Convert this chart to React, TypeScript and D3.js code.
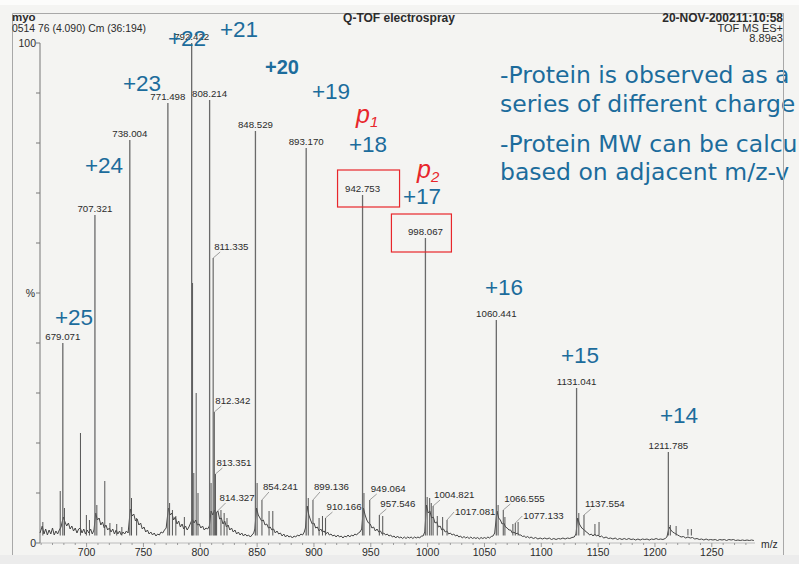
import { useEffect } from 'react';
import * as d3 from 'd3';

const W = 799;
const H = 564;

// labelled main peaks: m/z and relative intensity (%)
const mainMz = [679.071, 707.321, 738.004, 771.498, 792.422, 808.214, 848.529, 893.17, 942.753, 998.067, 1060.441, 1131.041, 1211.785];
const mainPct = [40.0, 65.6, 80.6, 88.0, 100, 88.6, 82.4, 79.0, 69.6, 61.0, 44.6, 31.0, 18.2];

// smaller labelled peaks (label sits beside, with a leader)
const sideMz = [811.335, 812.342, 813.351, 814.327, 854.241, 899.136, 910.166, 949.064, 957.546, 1004.821, 1017.081, 1066.555, 1077.133, 1137.554];
const sidePct = [57.0, 26.2, 13.8, 6.2, 8.6, 8.6, 5.0, 8.6, 5.6, 7.4, 4.6, 6.6, 4.0, 5.6];

// unlabelled spikes [m/z, %]
const spikes: [number, number][] = [
  [661.5, 4.2], [676.8, 10.4], [680.5, 7.0], [694.6, 22.0], [699.8, 5.6], [702.5, 4.6], [709.0, 7.6],
  [716.0, 12.4], [720.5, 4.0], [726.5, 3.8], [731, 3.2], [739.5, 9.0], [744, 5.0], [773.0, 8.0],
  [775.5, 6.6], [778.5, 5.4], [786.0, 5.2], [793.2, 52.0], [794.3, 14.0], [796.4, 30.0], [798.0, 10.0],
  [809.5, 12.0], [818.2, 6.6], [821.0, 6.0], [823.5, 5.0], [850.0, 12.0], [860.5, 6.4], [863.8, 6.4],
  [895.0, 9.0], [904.5, 5.0], [907.5, 5.4], [944.0, 10.0], [960.5, 5.4], [999.6, 9.2], [1001.8, 9.0],
  [1003.2, 8.0], [1008.5, 5.4], [1013.2, 5.2], [1062.0, 7.6], [1068.0, 5.2], [1075.0, 3.8], [1079.6, 4.2],
  [1133, 6.0], [1147.2, 3.8], [1150.8, 4.2], [1213.5, 3.6], [1218.6, 3.4], [1229.0, 2.8], [1232.0, 2.8],
];

// baseline trace [m/z, %]
const baseline: [number, number][] = [
  [659, 2.0], [661, 3.4], [662.5, 1.8], [664, 2.8], [665.5, 1.6], [667, 2.6], [668.5, 1.8], [670, 3.0], [671.5, 1.6],
  [673, 2.4], [674.5, 1.8], [676, 2.6], [677.5, 3.2], [679.5, 5.2], [681, 4.2], [682.5, 3.4], [684, 4.0], [685.5, 2.8],
  [687, 3.4], [688.5, 2.4], [690, 3.0], [691.5, 2.0], [693, 2.8], [694.5, 3.0], [696, 2.0], [697.5, 2.8], [699, 1.8],
  [700.5, 2.6], [702, 2.0], [703.5, 2.8], [705, 1.8], [706.5, 2.6], [708, 6.0], [709.5, 4.6], [711, 5.0], [712.5, 3.6],
  [714, 4.2], [715.5, 3.0], [717, 3.6], [718.5, 2.6], [720, 3.0], [721.5, 2.2], [723, 2.8], [724.5, 1.8], [726, 2.6],
  [727.5, 1.8], [729, 2.4], [730.5, 1.6], [732, 2.2], [733.5, 1.8], [735, 2.4], [736.5, 2.0], [738.5, 6.8], [740, 5.4],
  [741.5, 5.8], [743, 4.4], [744.5, 4.8], [746, 3.6], [747.5, 4.0], [749, 2.8], [750.5, 3.2], [752, 2.2], [753.5, 2.6],
  [755, 1.8], [756.5, 2.2], [758, 1.6], [759.5, 2.0], [761, 1.4], [762.5, 1.8], [764, 1.6], [765.5, 2.2], [767, 2.0],
  [768.5, 2.6], [770, 3.0], [772, 7.0], [773.5, 5.6], [775, 6.0], [776.5, 4.6], [778, 5.2], [779.5, 3.8], [781, 4.4],
  [782.5, 3.2], [784, 3.8], [785.5, 2.8], [787, 3.4], [788.5, 2.6], [790, 3.2], [791.5, 4.0], [793, 4.8], [794.5, 4.0],
  [796, 4.6], [797.5, 3.6], [799, 3.8], [800.5, 3.0], [802, 3.4], [803.5, 2.6], [805, 3.0], [806.5, 2.8], [808, 3.4],
  [809.5, 6.4], [811, 5.6], [812.5, 6.6], [814, 6.0], [815.5, 6.4], [817, 4.8], [818.5, 5.0], [820, 3.8], [821.5, 4.4],
  [823, 3.2], [824.5, 3.6], [826, 2.6], [827.5, 3.0], [829, 2.2], [830.5, 2.6], [832, 1.8], [833.5, 2.2], [835, 1.6],
  [836.5, 2.0], [838, 1.4], [839.5, 1.8], [841, 1.4], [842.5, 1.6], [844, 1.2], [845.5, 1.6], [847, 2.0], [848, 2.8],
  [849.5, 7.0], [851, 5.6], [852.5, 5.0], [854, 4.4], [855.5, 4.6], [857, 3.6], [858.5, 3.8], [860, 3.0], [861.5, 3.2],
  [863, 2.6], [864.5, 2.8], [866, 2.0], [867.5, 2.4], [869, 1.8], [870.5, 2.0], [872, 1.4], [873.5, 1.8], [875, 1.2],
  [876.5, 1.6], [878, 1.2], [879.5, 1.4], [881, 1.0], [882.5, 1.4], [884, 1.2], [885.5, 1.6], [887, 1.4], [888.5, 1.8],
  [890, 1.6], [891.5, 2.2], [892.5, 3.0], [894, 7.4], [895.5, 5.6], [897, 4.6], [898.5, 3.8], [900, 4.0], [901.5, 3.0],
  [903, 3.2], [904.5, 2.4], [906, 2.8], [907.5, 2.2], [909, 2.4], [910.5, 1.8], [912, 2.2], [913.5, 1.6], [915, 1.8],
  [916.5, 1.4], [918, 1.6], [919.5, 1.2], [921, 1.6], [922.5, 1.2], [924, 1.4], [925.5, 1.0], [927, 1.4], [928.5, 1.2],
  [930, 1.6], [931.5, 1.2], [933, 1.6], [934.5, 1.4], [936, 1.8], [937.5, 1.6], [939, 2.0], [940.5, 2.2], [942, 2.8],
  [943.5, 7.0], [945, 5.6], [946.5, 4.6], [948, 4.0], [949.5, 3.8], [951, 3.0], [952.5, 3.2], [954, 2.4], [955.5, 2.8],
  [957, 2.2], [958.5, 2.4], [960, 1.8], [961.5, 2.0], [963, 1.6], [964.5, 1.8], [966, 1.4], [967.5, 1.6], [969, 1.2],
  [970.5, 1.4], [972, 1.0], [973.5, 1.4], [975, 1.0], [976.5, 1.2], [978, 0.9], [979.5, 1.2], [981, 0.9], [982.5, 1.2],
  [984, 1.0], [985.5, 1.2], [987, 0.9], [988.5, 1.2], [990, 1.0], [991.5, 1.2], [993, 1.0], [994.5, 1.4], [996, 1.4],
  [997.5, 2.2], [999, 7.6], [1000.5, 6.0], [1002, 6.4], [1003.5, 5.0], [1005, 5.2], [1006.5, 4.0], [1008, 4.2],
  [1009.5, 3.2], [1011, 3.4], [1012.5, 2.6], [1014, 2.8], [1015.5, 2.2], [1017, 2.4], [1018.5, 1.8], [1020, 2.0],
  [1021.5, 1.6], [1023, 1.8], [1024.5, 1.4], [1026, 1.6], [1027.5, 1.2], [1029, 1.4], [1030.5, 1.0], [1032, 1.3],
  [1033.5, 1.0], [1035, 1.2], [1036.5, 0.9], [1038, 1.2], [1039.5, 0.9], [1041, 1.1], [1042.5, 0.9], [1044, 1.1],
  [1045.5, 0.8], [1047, 1.1], [1048.5, 0.9], [1050, 1.1], [1051.5, 0.9], [1053, 1.2], [1054.5, 1.0], [1056, 1.3],
  [1057.5, 1.4], [1059, 2.0], [1061, 6.4], [1062.5, 5.0], [1064, 4.6], [1065.5, 3.8], [1067, 4.0], [1068.5, 3.2],
  [1070, 3.0], [1071.5, 2.6], [1073, 2.6], [1074.5, 2.0], [1076, 2.2], [1077.5, 1.8], [1079, 2.0], [1080.5, 1.6],
  [1082, 1.6], [1083.5, 1.3], [1085, 1.4], [1086.5, 1.1], [1088, 1.3], [1089.5, 1.0], [1091, 1.2], [1093, 0.9],
  [1095, 1.1], [1097, 0.8], [1099, 1.0], [1101, 0.8], [1103, 1.0], [1105, 0.8], [1107, 1.0], [1109, 0.7], [1111, 0.9],
  [1113, 0.7], [1115, 0.9], [1117, 0.8], [1119, 1.0], [1121, 0.8], [1123, 1.0], [1125, 0.9], [1127, 1.1], [1129, 1.2],
  [1130.5, 1.8], [1132, 5.0], [1133.5, 3.8], [1135, 3.2], [1136.5, 2.8], [1138, 2.6], [1139.5, 2.2], [1141, 2.0],
  [1142.5, 1.6], [1144, 1.8], [1145.5, 1.4], [1147, 1.8], [1148.5, 1.4], [1150, 1.6], [1151.5, 1.2], [1153, 1.4],
  [1155, 1.0], [1157, 1.2], [1159, 0.9], [1161, 1.0], [1163, 0.8], [1165, 1.0], [1167, 0.7], [1169, 0.9], [1171, 0.7],
  [1173, 0.9], [1175, 0.7], [1177, 0.9], [1179, 0.7], [1181, 0.8], [1183, 0.6], [1185, 0.8], [1187, 0.6], [1189, 0.8],
  [1191, 0.7], [1193, 0.8], [1195, 0.6], [1197, 0.8], [1199, 0.7], [1201, 0.9], [1203, 0.7], [1205, 0.8], [1207, 0.7],
  [1209, 0.9], [1210.5, 1.2], [1212.5, 3.2], [1214, 2.6], [1215.5, 2.2], [1217, 2.0], [1218.5, 1.8], [1220, 1.6],
  [1221.5, 1.4], [1223, 1.2], [1225, 1.3], [1227, 1.0], [1229, 1.2], [1231, 1.0], [1233, 1.1], [1235, 0.8], [1237, 0.9],
  [1239, 0.7], [1241, 0.8], [1243, 0.6], [1245, 0.8], [1247, 0.6], [1249, 0.7], [1251, 0.6], [1253, 0.7], [1255, 0.5],
  [1257, 0.7], [1259, 0.6], [1261, 0.7], [1263, 0.5], [1265, 0.7], [1267, 0.6], [1269, 0.7], [1271, 0.5], [1273, 0.6],
  [1275, 0.5], [1277, 0.6], [1279, 0.5], [1281, 0.6], [1283, 0.5], [1285, 0.6], [1287, 0.5],
];

const xTickValues = [700, 750, 800, 850, 900, 950, 1000, 1050, 1100, 1150, 1200, 1250];

const chargeLabels = ['+25', '+24', '+23', '+22', '+21', '+20', '+19', '+18', '+17', '+16', '+15', '+14'];

const notes = [
  '-Protein is observed as a',
  'series of different charge',
  '-Protein MW can be calcu',
  'based on adjacent m/z-v',
];

// ---- layout (pixels) ----
const chargePos: Record<string, [number, number]> = {
  '+25': [74, 325], '+24': [104, 173], '+23': [142, 91], '+22': [187, 46], '+21': [239, 37],
  '+20': [282, 74], '+19': [331, 99], '+18': [368, 152], '+17': [422, 204], '+16': [504, 295],
  '+15': [580, 363], '+14': [679, 423],
};
// label offset from peak top: [dx, dy of text centre]
const sideOffset: Record<string, [number, number]> = {
  '814.327': [3, -15], '854.241': [1, -14], '899.136': [1, -14],
  '1017.081': [8, -9], '1077.133': [8, -8],
};
const notePos = [83, 112, 152, 180];

const BLUE = '#1c6c9c';
const RED = '#e8262b';
const INK = '#2b2b2b';
const SANS = "'Liberation Sans', Arial, sans-serif";

export default function App() {
  useEffect(() => {
    document.body.style.margin = '0';
  }, []);

  const x = d3.scaleLinear().domain([659, 1288]).range([40, 755]);
  const y = d3.scaleLinear().domain([0, 100]).range([543, 43]);

  const trace = d3
    .line<[number, number]>()
    .x((d) => x(d[0]))
    .y((d) => y(d[1]))(baseline);

  const minorTicks = d3.range(660, 1290, 10);
  const yTicks = d3.range(0, 101, 10);

  const p1x = x(mainMz[8]);
  const p1y = y(mainPct[8]);
  const p2x = x(mainMz[9]);
  const p2y = y(mainPct[9]);

  return (
    <svg width={W} height={H} style={{ position: 'absolute', left: 0, top: 0, display: 'block' }} fontFamily={SANS}>
      <rect width={W} height={H} fill="#f4f4f2" />
      <rect width={W} height={5} fill="#fcfcfb" />
      <rect y={555} width={W} height={9} fill="#ececec" />
      <path d="M12.5,555 V13.5 H783.5 V555" fill="none" stroke="#a8a8a8" />

      {/* header */}
      <text x={12} y={21} fontSize={11.5} fontWeight="bold" fill={INK}>myo</text>
      <text x={12} y={31.5} fontSize={10.4} fill={INK}>0514 76 (4.090) Cm (36:194)</text>
      <text x={399} y={22} fontSize={12} fontWeight="bold" textAnchor="middle" fill={INK}>Q-TOF electrospray</text>
      <text x={783} y={21.5} fontSize={12} fontWeight="bold" textAnchor="end" fill={INK}>20-NOV-200211:10:58</text>
      <text x={783} y={31.5} fontSize={11} textAnchor="end" fill={INK}>TOF MS ES+</text>
      <text x={783} y={41.5} fontSize={11} textAnchor="end" fill={INK}>8.89e3</text>

      {/* y axis */}
      <line x1={40} x2={40} y1={y(100)} y2={y(0)} stroke="#777" />
      {yTicks.map((t) => (
        <line key={t} x1={36} x2={40} y1={y(t)} y2={y(t)} stroke="#777" />
      ))}
      <text x={36} y={y(100) + 4} fontSize={10.5} textAnchor="end" fill={INK}>100</text>
      <text x={36} y={y(0) + 4} fontSize={10.5} textAnchor="end" fill={INK}>0</text>
      <text x={35} y={y(50) + 4} fontSize={10.5} textAnchor="end" fill={INK}>%</text>

      {/* x axis */}
      <line x1={40} x2={755} y1={y(0)} y2={y(0)} stroke="#999" strokeWidth={0.6} />
      {minorTicks.map((t) => (
        <line key={t} x1={x(t)} x2={x(t)} y1={y(0)} y2={y(0) + (t % 50 === 0 ? 4 : 2)} stroke="#888" strokeWidth={0.8} />
      ))}
      {xTickValues.map((t) => (
        <text key={t} x={x(t)} y={555.5} fontSize={10.5} textAnchor="middle" fill={INK}>{t}</text>
      ))}
      <text x={761} y={547.5} fontSize={10.4} fill={INK}>m/z</text>

      {/* spectrum */}
      <path d={trace ?? ''} fill="none" stroke="#444" strokeWidth={1} />
      {spikes.map(([m, p]) => (
        <line key={m} x1={x(m)} x2={x(m)} y1={y(1.5)} y2={y(p)} stroke="#555" strokeWidth={1} />
      ))}
      {sideMz.map((m, i) => (
        <line key={m} x1={x(m)} x2={x(m)} y1={y(1.5)} y2={y(sidePct[i])} stroke="#5e5e5e" strokeWidth={1.1} />
      ))}
      {mainMz.map((m, i) => (
        <line key={m} x1={x(m)} x2={x(m)} y1={y(1.5)} y2={y(mainPct[i])} stroke="#6a6a6a" strokeWidth={1.3} />
      ))}

      {/* peak labels */}
      {mainMz.map((m, i) => (
        <text key={m} x={x(m)} y={y(mainPct[i]) - 3} fontSize={9.7} textAnchor="middle" fill={INK}>
          {m.toFixed(3)}
        </text>
      ))}
      {sideMz.map((m, i) => {
        const lbl = m.toFixed(3);
        const [dx, dy] = sideOffset[lbl] ?? [1, -12];
        const px = x(m);
        const py = y(sidePct[i]);
        const tx = px + dx;
        const ty = py + dy;
        const far = dx > 4;
        return (
          <g key={m}>
            <line
              x1={px}
              y1={py}
              x2={far ? tx - 1 : tx + 6}
              y2={far ? ty + 1 : ty + 6}
              stroke="#777"
              strokeWidth={0.7}
            />
            <text x={tx} y={ty + 3.5} fontSize={9.7} fill={INK}>{lbl}</text>
          </g>
        );
      })}

      {/* p1 / p2 boxes */}
      <rect x={p1x - 25} y={p1y - 25} width={62} height={37} fill="none" stroke={RED} strokeWidth={1.2} />
      <rect x={p2x - 34} y={p2y - 24} width={60} height={38} fill="none" stroke={RED} strokeWidth={1.2} />
      <text x={356} y={123} fill={RED} fontStyle="italic">
        <tspan fontSize={25}>p</tspan>
        <tspan fontSize={15} dy={4}>1</tspan>
      </text>
      <text x={417} y={178} fill={RED} fontStyle="italic">
        <tspan fontSize={25}>p</tspan>
        <tspan fontSize={15} dy={4}>2</tspan>
      </text>

      {/* charge states */}
      {chargeLabels.map((c) => (
        <text
          key={c}
          x={chargePos[c][0]}
          y={chargePos[c][1]}
          fontSize={c === '+20' ? 20 : 22.5}
          fontWeight={c === '+20' ? 'bold' : 'normal'}
          textAnchor="middle"
          fill={BLUE}
        >
          {c}
        </text>
      ))}

      {/* notes */}
      {notes.map((n, i) => (
        <text key={n} x={500} y={notePos[i]} fontSize={23.5} fontFamily="'DejaVu Sans', Verdana, sans-serif" fill={BLUE}>
          {n}
        </text>
      ))}
      <line x1={783.5} x2={783.5} y1={13} y2={555} stroke="#a8a8a8" />
    </svg>
  );
}
